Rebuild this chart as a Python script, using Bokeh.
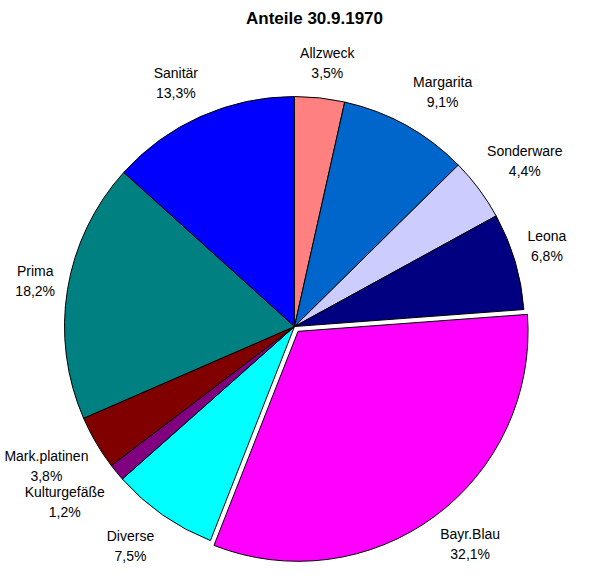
import math
from bokeh.plotting import figure
from bokeh.models import Range1d, Label, ColumnDataSource
from bokeh.core.properties import value
from bokeh.embed import file_html
from bokeh.resources import INLINE

# ---- data ----
names = ["Allzweck", "Margarita", "Sonderware", "Leona", "Bayr.Blau",
         "Diverse", "Kulturgefäße", "Mark.platinen", "Prima", "Sanitär"]
shares = [3.5, 9.1, 4.4, 6.8, 32.1, 7.5, 1.2, 3.8, 18.2, 13.3]
pct_labels = ["3,5%", "9,1%", "4,4%", "6,8%", "32,1%",
              "7,5%", "1,2%", "3,8%", "18,2%", "13,3%"]
colors = ["#FF8080", "#0066CC", "#CCCCFF", "#000080", "#FF00FF",
          "#00FFFF", "#800080", "#800000", "#008080", "#0000FF"]
exploded = ["Bayr.Blau"]
title_text = "Anteile 30.9.1970"

# ---- layout ----
W, H = 584, 564
R = 230
CX, CY = 294, 326          # pie centre in figure pixels (from top-left)
FONT = "Liberation Sans"

p = figure(width=W, height=H, output_backend="svg", toolbar_location=None,
           x_range=Range1d(-CX, W - CX), y_range=Range1d(-(H - CY), CY),
           min_border=0, outline_line_color=None, background_fill_color="white")
p.axis.visible = False
p.grid.visible = False

total = sum(shares)
starts, ends, xs, ys, mids = [], [], [], [], []
cum = 0.0
for n, s in zip(names, shares):
    a0 = math.pi / 2 - 2 * math.pi * cum / total
    a1 = math.pi / 2 - 2 * math.pi * (cum + s) / total
    mid = (a0 + a1) / 2
    off = 6 if n in exploded else 0
    starts.append(a0)
    ends.append(a1)
    xs.append(off * math.cos(mid))
    ys.append(off * math.sin(mid))
    mids.append(mid)
    cum += s

src = ColumnDataSource(dict(x=xs, y=ys, start=starts, end=ends, color=colors))
p.wedge(x="x", y="y", radius=R, start_angle="start", end_angle="end",
        direction="clock", fill_color="color", line_color="black",
        line_width=1, source=src)

# label placement (Excel-like: box corner near an outer circle)
R0 = 246
hh = 19
BOX_H = 36
lx, ly, hws = [], [], []
for n, m in zip(names, mids):
    sx, sy = math.cos(m), math.sin(m)
    hw = 3.3 * len(n)
    kx = max(-1, min(1, 2 * sx))
    ky = max(-1, min(1, 2 * sy))
    x = R0 * sx + hw * kx
    x = max(x, -CX + 3 + hw)          # keep inside left edge
    x = min(x, W - CX - 3 - hw)       # keep inside right edge
    lx.append(x)
    ly.append(R0 * sy + hh * ky)
    hws.append(hw)

# simple overlap resolution: push the upper label further up
for _ in range(5):
    for i in range(len(names)):
        for j in range(len(names)):
            if i == j:
                continue
            if abs(lx[i] - lx[j]) < hws[i] + hws[j] and 0 <= ly[i] - ly[j] < BOX_H:
                ly[i] = ly[j] + BOX_H

# keep lowest labels inside the bottom edge
ly = [max(y, -(H - CY) + 19) for y in ly]

lsrc = ColumnDataSource(dict(x=lx, y=ly, name=names, pct=pct_labels))
p.text(x="x", y="y", text="name", source=lsrc, text_align="center",
       text_baseline="middle", y_offset=-10, text_font=value(FONT),
       text_font_size="14px", text_color="black")
p.text(x="x", y="y", text="pct", source=lsrc, text_align="center",
       text_baseline="middle", y_offset=10, text_font=value(FONT),
       text_font_size="14px", text_color="black")

p.add_layout(Label(x=314, y=H - 18, x_units="screen", y_units="screen",
                   text=title_text, text_align="center", text_baseline="middle",
                   text_font=FONT, text_font_size="17px",
                   text_font_style="bold", text_color="black"))

open("out.html", "w").write(file_html(p, INLINE))
